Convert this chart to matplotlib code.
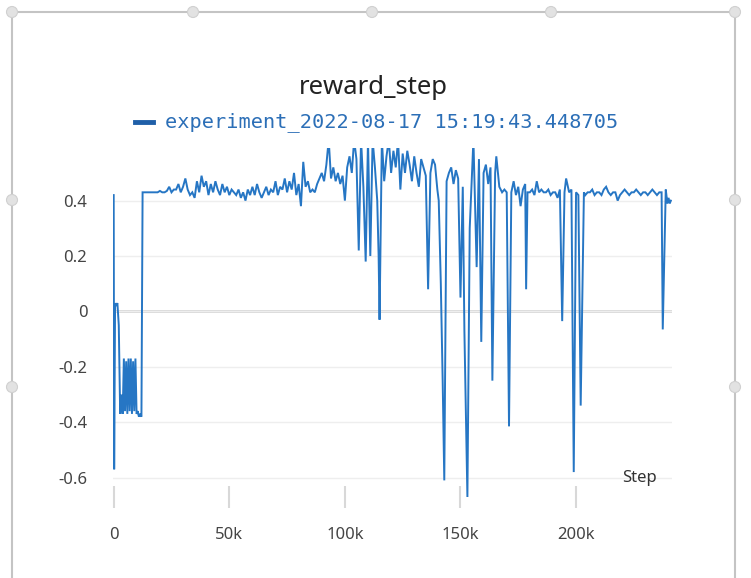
import matplotlib
matplotlib.use('Agg')
import matplotlib.pyplot as plt
from matplotlib.patches import Circle, Rectangle
from matplotlib.ticker import FuncFormatter

# --- data (steps in thousands) ---
steps_k = [
    0, 0.2, 0.6, 1.0, 1.6, 2.2, 2.8, 3.4, 3.9, 4.4, 4.9, 5.4, 5.9, 6.4, 6.9,
    7.4, 7.9, 8.4, 8.9, 9.4, 9.9, 10.4, 10.9, 11.4, 12.0, 12.5,
    13, 14, 15, 16, 17, 18, 19, 20, 21, 22, 23, 24, 25, 26, 27, 28, 29, 30,
    31, 32, 33, 34, 35, 36, 37, 38, 39, 40, 41, 42, 43, 44, 45, 46, 47, 48,
    49, 50, 51, 52, 53, 54, 55, 56, 57, 58, 59, 60, 61, 62, 63, 64, 65, 66,
    67, 68, 69, 70, 71, 72, 73, 74, 75, 76, 77, 78, 79, 80, 81, 82, 83, 84,
    85, 86, 87, 88, 89, 90, 91, 92, 93, 94, 95, 96, 97, 98, 99,
    100, 101, 102, 103, 104, 105, 106, 107, 108, 109, 110, 111, 112, 113,
    114, 114.6, 115, 116, 117, 118, 119, 120, 121, 122, 123, 124, 125, 126, 127,
    128, 129, 130, 131, 132, 133, 134, 135,
    136, 137, 138, 139, 140, 140.6, 141.5, 142.3, 143,
    144, 145, 146, 147, 148, 149, 150, 151, 151.7, 153, 154,
    155.6, 157, 158, 159, 160, 161, 162, 163, 163.8, 165, 165.5, 166.8,
    168, 169, 170, 171, 172, 173, 174, 175, 176, 177, 178, 178.4, 179,
    180, 181, 182, 183, 184, 185, 186, 187, 188, 189, 190, 191, 192, 193,
    194, 195, 195.7, 197, 198, 199, 200, 201, 202, 203.4,
    204, 205, 206, 207, 208, 209, 210, 211, 212, 213, 214, 215, 216, 217,
    218, 219, 220, 221, 222, 223, 224, 225, 226, 227, 228, 229, 230, 231,
    232, 233, 234, 235, 236, 237, 237.5, 238.8, 239.5, 240, 240.5, 241,
]
reward = [
    0.42, -0.57, 0.03, 0.02, 0.03, -0.05, -0.37, -0.30, -0.37, -0.17, -0.36,
    -0.18, -0.37, -0.17, -0.36, -0.17, -0.37, -0.18, -0.36, -0.17, -0.37,
    -0.36, -0.38, -0.37, -0.38, 0.43,
    0.43, 0.43, 0.43, 0.43, 0.43, 0.43, 0.43, 0.435, 0.43, 0.43, 0.435,
    0.45, 0.43, 0.44, 0.44, 0.46, 0.43, 0.45, 0.48, 0.44, 0.42, 0.43, 0.41,
    0.47, 0.43, 0.49, 0.45, 0.47, 0.42, 0.46, 0.43, 0.47, 0.44, 0.42, 0.46,
    0.43, 0.45, 0.42, 0.44, 0.43, 0.42, 0.44, 0.41, 0.43, 0.40, 0.44, 0.42,
    0.45, 0.42, 0.46, 0.43, 0.41, 0.43, 0.45, 0.42, 0.44, 0.43, 0.47, 0.42,
    0.45, 0.44, 0.48, 0.43, 0.47, 0.44, 0.50, 0.42, 0.46, 0.38, 0.54, 0.45,
    0.47, 0.43, 0.44, 0.43, 0.46, 0.48, 0.50, 0.47, 0.53, 0.62, 0.48, 0.52,
    0.47, 0.50, 0.46, 0.49,
    0.40, 0.52, 0.56, 0.50, 0.62, 0.55, 0.22, 0.62, 0.45, 0.18, 0.62, 0.20,
    0.62, 0.52, 0.40, 0.20, -0.03, 0.62, 0.47, 0.56, 0.62, 0.50, 0.58, 0.52, 0.62,
    0.44, 0.57, 0.50, 0.58, 0.53, 0.47, 0.56, 0.50, 0.45, 0.55, 0.52, 0.49,
    0.08, 0.50, 0.55, 0.53, 0.44, 0.40, 0.10, -0.25, -0.61,
    0.47, 0.50, 0.52, 0.46,
    0.51, 0.48, 0.05, 0.45, -0.07, -0.67, 0.30, 0.62, 0.16, 0.55, -0.11,
    0.50, 0.53, 0.46, 0.52, -0.25, 0.50, 0.56, 0.45,
    0.43, 0.44, 0.43, -0.415, 0.43, 0.47, 0.42, 0.45, 0.38, 0.44, 0.46, 0.08,
    0.43,
    0.43, 0.44, 0.42, 0.47, 0.43, 0.44, 0.43, 0.43, 0.44, 0.42, 0.43, 0.43,
    0.41, 0.44,
    -0.035, 0.43, 0.48, 0.43, 0.44, -0.58, 0.43, 0.42, -0.34, 0.43,
    0.42, 0.43, 0.43, 0.44, 0.42, 0.43, 0.43, 0.42, 0.44, 0.45, 0.43, 0.42,
    0.43, 0.43, 0.40, 0.42, 0.43, 0.44, 0.43, 0.42, 0.43, 0.43, 0.44, 0.43,
    0.42, 0.43, 0.43, 0.42, 0.43, 0.44, 0.43, 0.42, 0.43, 0.43,
    -0.065, 0.44, 0.39, 0.41, 0.39, 0.40,
]
steps = [s * 1000 for s in steps_k]

y_ticks = [-0.6, -0.4, -0.2, 0, 0.2, 0.4]
y_labels = ['-0.6', '-0.4', '-0.2', '0', '0.2', '0.4']
x_ticks = [0, 50000, 100000, 150000, 200000]

W, H = 751, 578
fig = plt.figure(figsize=(W / 100, H / 100), dpi=100)
fig.patch.set_facecolor('white')

ax = fig.add_axes([113 / W, 1 - 497 / H, 559 / W, 349 / H])
ax.plot(steps, reward, color='#2676c4', lw=1.4, solid_joinstyle='miter')
ax.set_xlim(-300, 241500)
ax.set_ylim(-0.67, 0.59)

for s in ax.spines.values():
    s.set_visible(False)
ax.set_yticks(y_ticks)
ax.set_yticklabels(y_labels)
ax.set_xticks(x_ticks)
ax.xaxis.set_major_formatter(FuncFormatter(lambda v, p: '0' if v == 0 else f'{int(v / 1000)}k'))
ax.grid(axis='y', color='#eeeeee', lw=1)
ax.axhline(0, color='#d6d6d6', lw=2, zorder=0.5)
ax.set_axisbelow(True)
ax.tick_params(axis='y', length=0, pad=18.5, labelsize=12, labelcolor='#444444')
ax.tick_params(axis='x', direction='inout', length=16.5, width=1.5, color='#d8d8d8',
               pad=13, labelsize=12, labelcolor='#444444')
for lab in ax.get_xticklabels() + ax.get_yticklabels():
    lab.set_family('Noto Sans')

# title, legend entry and axis label
fig.text(373 / W, 1 - 88 / H, 'reward_step', ha='center', va='center',
         fontsize=18.5, color='#222222', family='Noto Sans')
fig.add_artist(plt.Line2D([135 / W, 153 / W], [1 - 122 / H] * 2, color='#1f5fa8', lw=3.5))
fig.text(165 / W, 1 - 122 / H, 'experiment_2022-08-17 15:19:43.448705', ha='left', va='center',
         fontsize=14.6, color='#2c6fb7', family='DejaVu Sans Mono')
fig.text(657 / W, 1 - 478 / H, 'Step', ha='right', va='center',
         fontsize=12, color='#333333', family='Noto Sans')

# screenshot frame with resize handles
fig.add_artist(Rectangle((12 / W, -0.01), (735 - 12) / W, (H - 12) / H + 0.01,
                         transform=fig.transFigure, fill=False, ec='#c4c4c4', lw=1.5))
handles = [(12, 12), (193, 12), (372, 12), (551, 12), (735, 12),
           (12, 200), (12, 387), (735, 200), (735, 387)]
for hx, hy in handles:
    fig.add_artist(Circle((hx / 100, (H - hy) / 100), 0.055, transform=fig.dpi_scale_trans,
                          fc='#e2e2e2', ec='#d0d0d0', lw=0.8))

fig.savefig('out.png', dpi=100)
plt.close(fig)
